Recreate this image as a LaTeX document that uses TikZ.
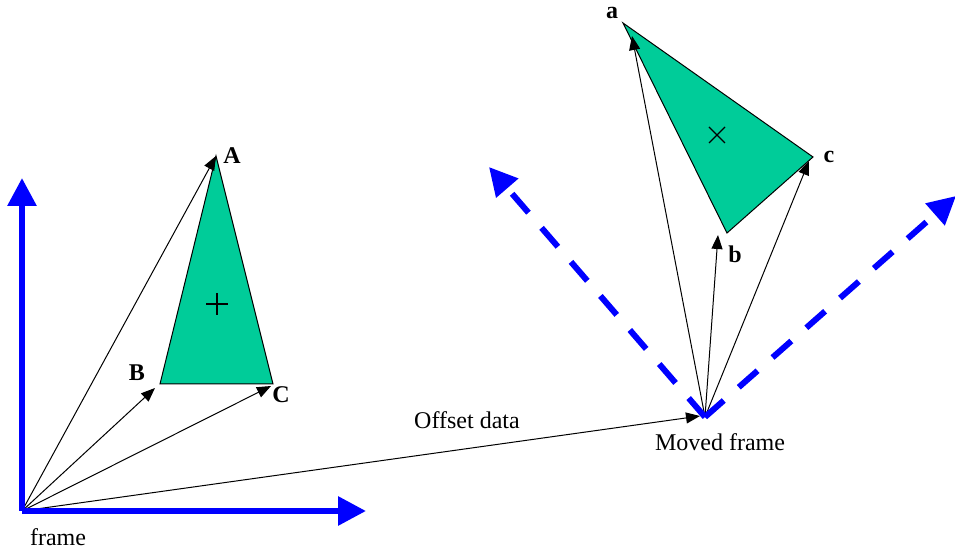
\documentclass[tikz,border=0pt]{standalone}
\usepackage{fontspec}
\setmainfont{Liberation Serif}
\usetikzlibrary{arrows.meta}
\definecolor{triGreen}{RGB}{0,204,153}

\begin{document}
\begin{tikzpicture}[x=0.5pt, y=-0.5pt,
    vec/.style={black, line width=0.5pt, -{Triangle[length=7pt,width=5.5pt]}},
    axis/.style={blue, line width=3pt, -{Triangle[length=14pt,width=14pt]}},
    movedaxis/.style={axis, dash pattern=on 12.5pt off 10pt},
    tri/.style={draw=black, line width=0.5pt, fill=triGreen},
    lbl/.style={font=\bfseries\fontsize{12}{14}\selectfont, inner sep=0pt},
    txt/.style={font=\fontsize{12}{14}\selectfont, inner sep=0pt}]
    \useasboundingbox (0,0) rectangle (955,550);
    % frames
    \coordinate (O) at (22,511);
    \coordinate (Ox) at (366,511);
    \coordinate (Oy) at (22,178);
    \coordinate (M) at (705,417);
    \coordinate (Mx) at (956,196);
    \coordinate (My) at (489,167);
    % triangle points
    \coordinate (A) at (216,156);
    \coordinate (B) at (160,384);
    \coordinate (C) at (273,384);
    \coordinate (a) at (623,23);
    \coordinate (b) at (727,233);
    \coordinate (c) at (813,157);

    \draw[tri] (A) -- (B) -- (C) -- cycle;
    \draw[tri] (a) -- (b) -- (c) -- cycle;
    \draw[line width=0.6pt] (206,304) -- (228,304) (217,293) -- (217,315);
    \draw[line width=0.6pt] (709,127) -- (725,143) (709,143) -- (725,127);

    \draw[vec] (O) -- (A);
    \draw[vec] (O) -- (155,388);
    \draw[vec] (O) -- (271,386);
    \draw[vec] (O) -- (700,416);
    \draw[vec] (M) -- (632,36);
    \draw[vec] (M) -- (718,235);
    \draw[vec] (M) -- (809,161);

    \draw[axis] (O) -- (Ox);
    \draw[axis] (O) -- (Oy);
    \draw[movedaxis] (M) -- (Mx);
    \draw[movedaxis] (M) -- (My);

    \node[lbl] (lA) at (232,156) {A};
    \node[lbl] (lB) at (137,373) {B};
    \node[lbl] (lC) at (281,395) {C};
    \node[lbl] (la) at (612,13) {a};
    \node[lbl] (lb) at (735,254) {b};
    \node[lbl] (lc) at (829,157) {c};
    \node[txt] (frame) at (58,537) {frame};
    \node[txt] (offset) at (467,420) {Offset data};
    \node[txt] (moved) at (720,442) {Moved frame};
\end{tikzpicture}
\end{document}
